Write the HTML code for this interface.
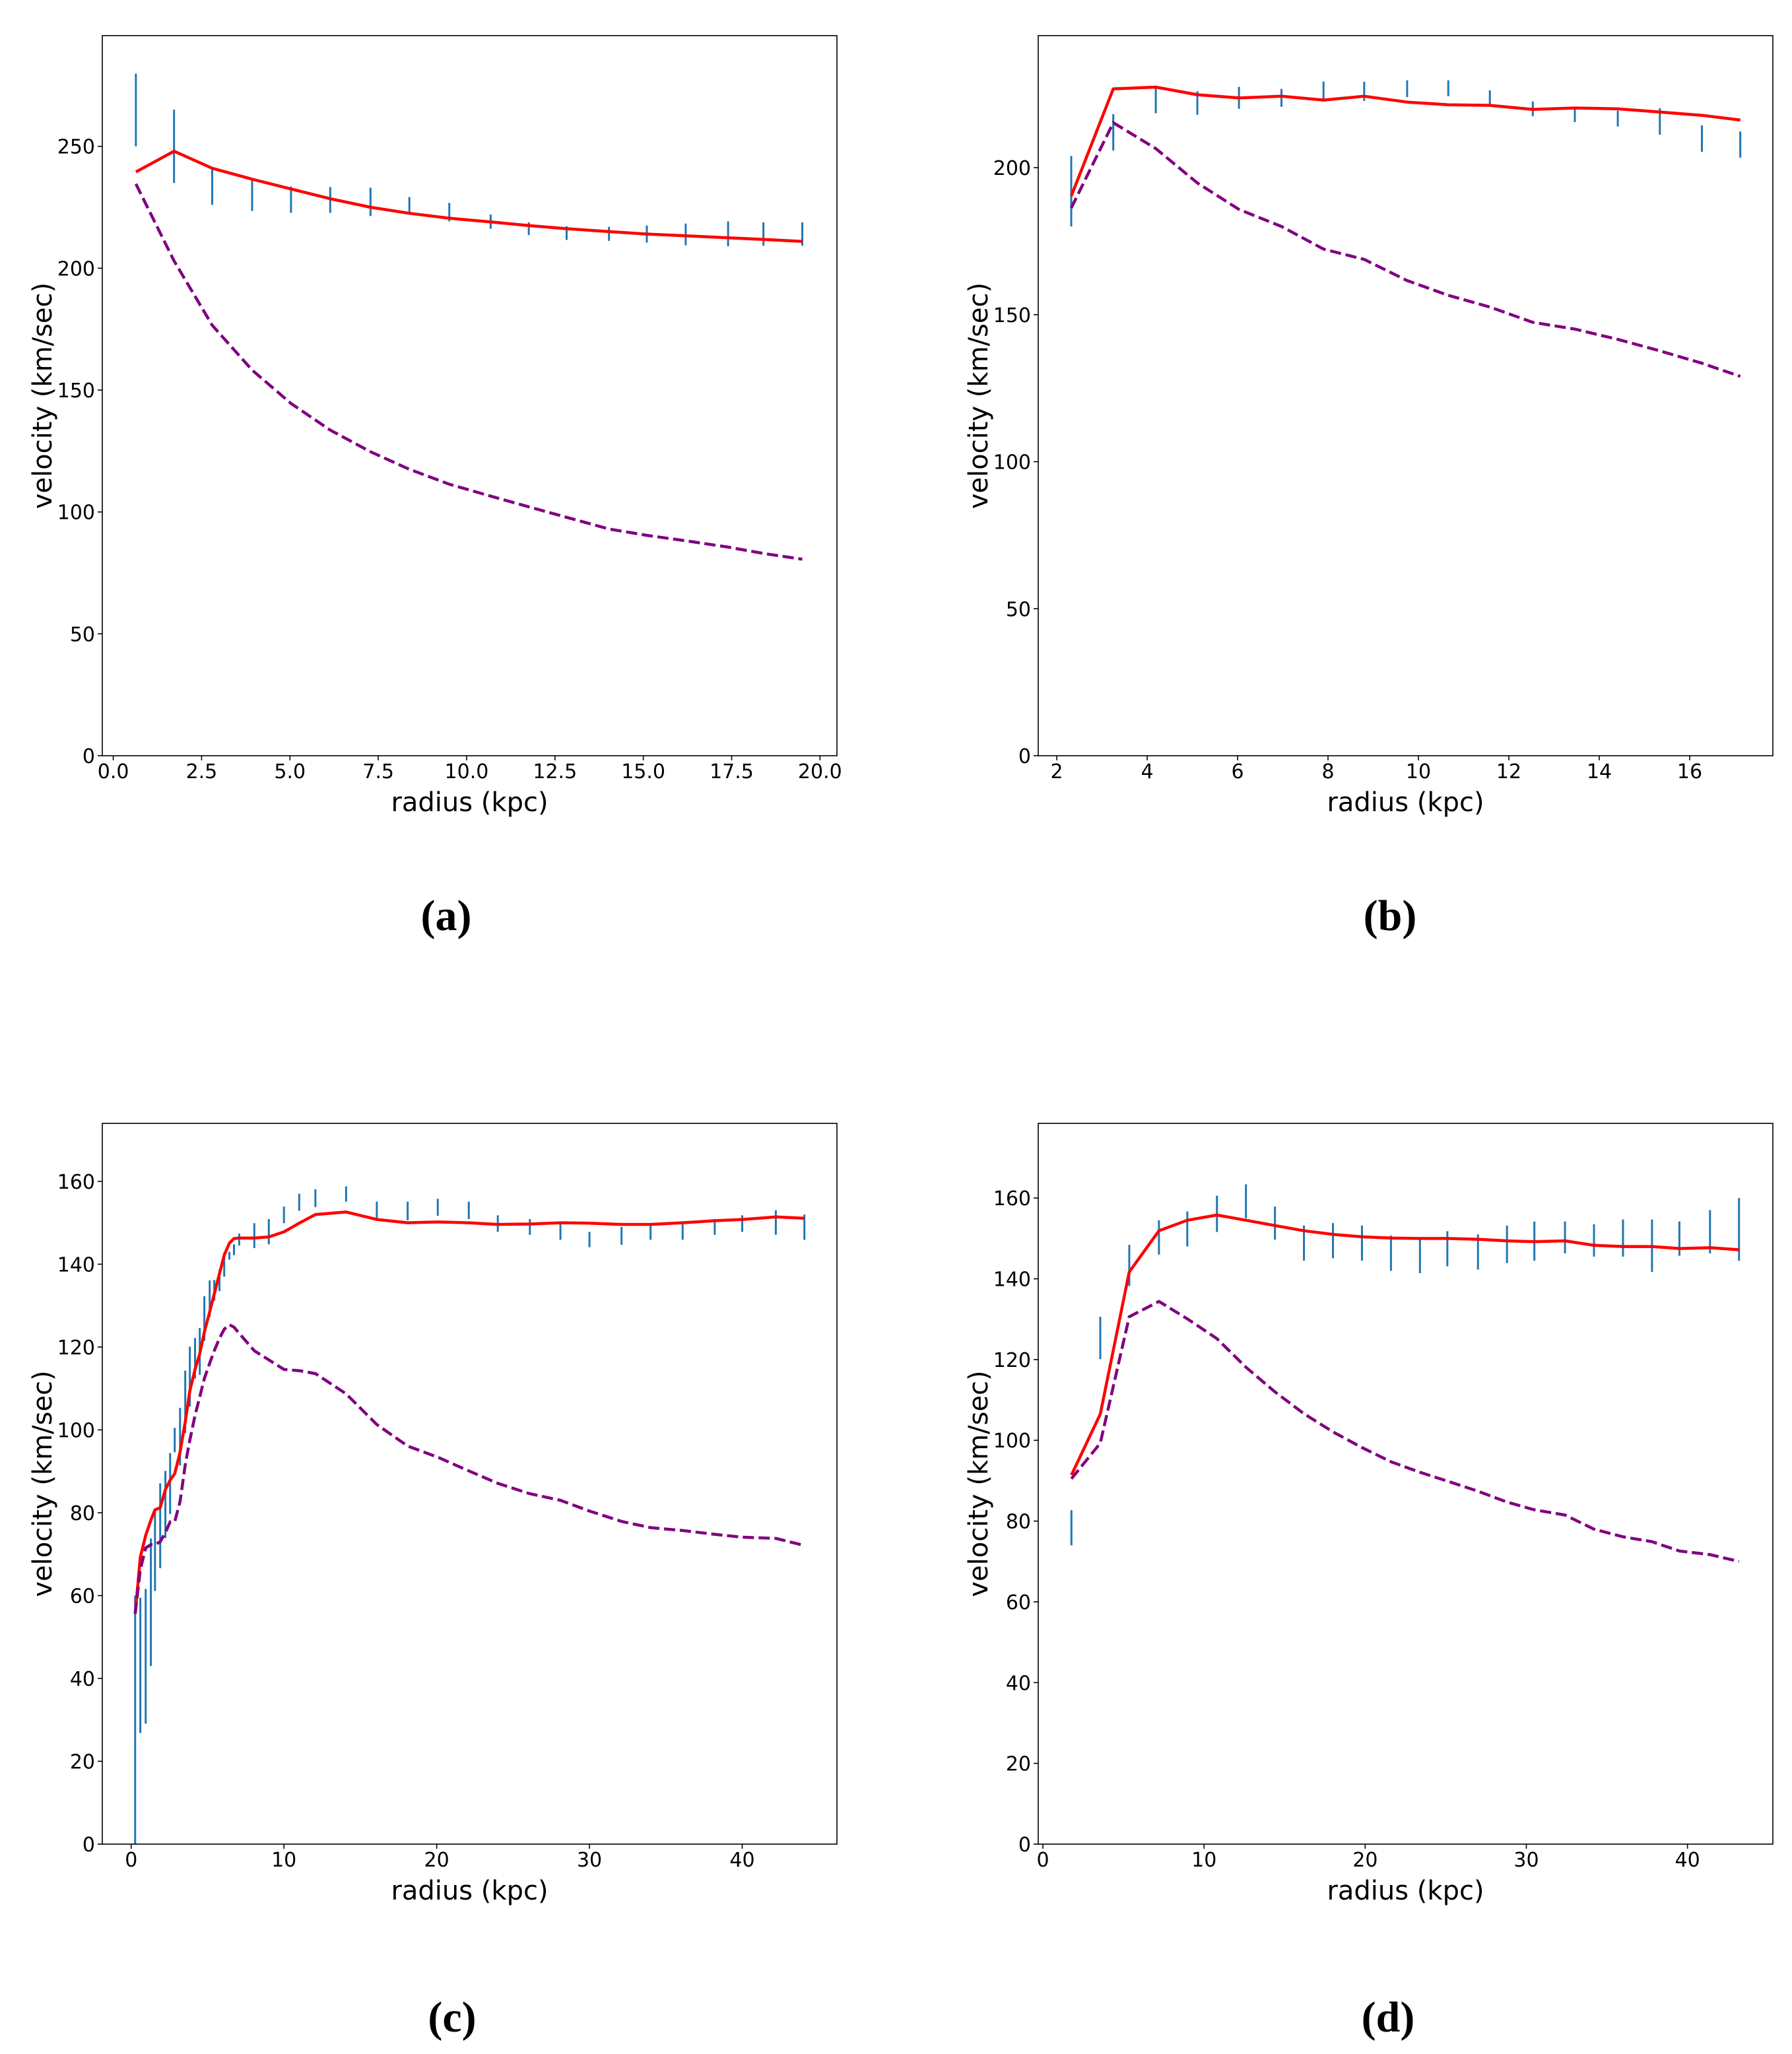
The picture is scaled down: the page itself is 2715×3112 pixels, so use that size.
<!DOCTYPE html>
<html><head><meta charset="utf-8">
<style>
html,body{margin:0;padding:0;background:#fff;}
svg{display:block;}
text{font-family:"DejaVu Sans","Liberation Sans",sans-serif;fill:#000;}
.cap{font-family:"Liberation Serif",serif;font-weight:bold;}
</style></head>
<body>
<svg id="fig" width="2715" height="3112" viewBox="0 0 2715 3112" xmlns="http://www.w3.org/2000/svg"></svg>
<script>
// ---- Panel (a) ----
const aR = [0.64,1.72,2.8,3.93,5.03,6.14,7.28,8.38,9.51,10.68,11.76,12.83,14.03,15.1,16.2,17.4,18.4,19.5];
const aObsHi = [279.8,265,241,236.6,233.5,233.3,233,229.2,226.8,222,218.8,217.2,217,217.5,218.3,219.2,218.8,218.8];
const aObsLo = [250,235,226,223.5,222.7,222.7,221.4,222.7,219.2,216.2,213.6,211.6,211.2,210.5,209.4,209,209.2,209.2];
const aModel = [239.5,248,241,236.5,232.5,228.5,225,222.5,220.5,219,217.5,216.2,215,214,213.3,212.5,211.8,211];
const aBary = [234.6,203,176.6,158.2,144.5,133.6,124.7,117.5,111.4,106.5,102.1,97.8,93,90.4,88.2,85.6,83,80.6];
const aXTicks = [0,2.5,5,7.5,10,12.5,15,17.5,20];
const aXTickLabels = ["0.0","2.5","5.0","7.5","10.0","12.5","15.0","17.5","20.0"];
const aYTicks = [0,50,100,150,200,250];

// ---- Panel (b) ----
const bR = [2.32,3.25,4.19,5.11,6.03,6.97,7.9,8.8,9.75,10.66,11.58,12.53,13.46,14.41,15.34,16.27,17.12];
const bObsHi = [204,218.2,227.2,226,227.5,226.8,229.3,229.2,229.7,229.7,226.3,222.5,220.5,219.4,220.2,214.4,212.3];
const bObsLo = [180,205.8,218.5,218,220,220.7,222.7,222.7,224,224.3,221.4,217.5,215.5,214,211.2,205.4,203.4];
const bModel = [190.3,226.8,227.4,224.8,223.7,224.3,223,224.3,222.3,221.4,221.2,219.8,220.3,220,218.9,217.8,216.2];
const bBary = [186.3,215.3,206.5,194.8,185.8,180,172.3,168.8,161.6,156.6,152.6,147.4,145.1,141.6,137.7,133.5,129];
const bXTicks = [2,4,6,8,10,12,14,16];
const bXTickLabels = ["2","4","6","8","10","12","14","16"];
const bYTicks = [0,50,100,150,200];

// ---- Panel (c) ----
const cR = [0.26,0.6,0.95,1.29,1.56,1.9,2.24,2.55,2.85,3.2,3.54,3.84,4.18,4.49,4.79,5.14,5.44,5.78,6.09,6.43,6.73,7.07,8.06,9.01,10,11,12.06,14.07,16.08,18.1,20.07,22.1,24,26.1,28.1,30,32.1,34,36.1,38.2,40,42.2,44.07];
const cObsHi = [60,59.5,61.6,73.8,80.4,87.1,90.1,94.4,100.5,105.3,114.3,120.1,122.2,124.6,132.3,136.1,136.2,138.7,142.8,143,144.8,147.4,149.9,150.9,153.9,157,158.1,158.8,155.1,155.1,155.8,155.1,151.8,150.9,150.3,147.8,149,149.9,150.3,150.9,151.8,153,152];
const cObsLo = [0,26.8,29.1,43,61.1,66.6,73.9,79.7,94.6,91.4,99.2,105.6,112.4,113.3,121.5,127.3,131.2,133.5,137,141.1,142.2,144.5,143.9,144.8,149.9,152.9,153.8,155.1,150.6,150.6,151.7,150.9,147.8,147.1,145.9,144.1,144.7,145.9,145.9,147.1,147.8,147.1,145.9];
const cModel = [55.6,69.3,74.5,78.2,80.7,81.2,85.6,87.9,89.4,94.6,102,109.4,114.6,118.4,123.6,128.5,132.8,137.7,142.2,145.1,146.2,146.3,146.3,146.6,147.8,149.9,152,152.6,150.8,150,150.2,150,149.6,149.7,150,149.9,149.6,149.6,150,150.5,150.8,151.4,151.1];
const cBary = [55.6,66.3,71.5,72.3,72.3,73,75.2,77.8,77.8,82.7,91.6,97.5,103.5,108,112.4,116.1,119.1,122.1,124.3,125.4,124.8,123.3,119.1,116.9,114.6,114.3,113.6,108.7,101.3,96.1,93.4,90.1,87.1,84.6,83,80.4,77.9,76.4,75.7,74.8,74.1,73.8,72.1];
const cXTicks = [0,10,20,30,40];
const cXTickLabels = ["0","10","20","30","40"];
const cYTicks = [0,20,40,60,80,100,120,140,160];

// ---- Panel (d) ----
const dR = [1.77,3.56,5.36,7.2,8.96,10.8,12.6,14.4,16.2,18,19.8,21.6,23.4,25.1,27,28.8,30.5,32.4,34.2,36,37.8,39.5,41.4,43.2];
const dObsHi = [82.7,130.6,148.4,154.5,156.7,160.6,163.4,157.9,153.2,153.8,153.2,150.7,150.3,151.8,151,153.2,154.2,154.2,153.5,154.7,154.7,154.2,157,160];
const dObsLo = [74,120.1,138.2,146,148,151.6,155,149.7,144.5,145.1,144.5,142,141.4,143.1,142.3,143.9,144.5,146.3,145.5,145.5,141.7,145.7,146.3,144.5];
const dModel = [91.4,106.5,141.7,151.9,154.5,155.8,154.5,153.2,151.9,151,150.4,150.1,150,150,149.8,149.4,149.2,149.4,148.3,148,148,147.5,147.7,147.2];
const dBary = [90.5,99.3,130.6,134.4,130.1,125.2,118.1,112,106.6,102.1,98.2,94.7,92.1,89.9,87.4,84.7,82.8,81.5,78,76.1,74.9,72.6,71.7,70];
const dXTicks = [0,10,20,30,40];
const dXTickLabels = ["0","10","20","30","40"];
const dYTicks = [0,20,40,60,80,100,120,140,160];

const NS = "http://www.w3.org/2000/svg";
const fig = document.getElementById('fig');
function mk(tag, attrs, parent){
  const e = document.createElementNS(NS, tag);
  for (const k in attrs) e.setAttribute(k, attrs[k]);
  (parent||fig).appendChild(e);
  return e;
}

function panel(id, box, xdom, ydom, R, hi, lo, model, bary, xt, xtl, yt, cap){
  const g = mk('g', {});
  
  
  const sx = v => box.l + (v - xdom[0]) / (xdom[1] - xdom[0]) * (box.r - box.l);
  const sy = v => box.b - (v - ydom[0]) / (ydom[1] - ydom[0]) * (box.b - box.t);
  for (let i = 0; i < R.length; i++){
    const l = mk('line', {x1:sx(R[i]), x2:sx(R[i]), y1:sy(hi[i]), y2:sy(lo[i]), stroke:'#1f77b4', 'stroke-width':3}, g);
    
    
  }
  const pts = arr => R.map((r,i) => sx(r).toFixed(1) + ',' + sy(arr[i]).toFixed(1)).join(' ');
  const pm = mk('polyline', {points:pts(model), fill:'none', stroke:'#ff0000', 'stroke-width':4.5, 'stroke-linejoin':'round'}, g);
  
  
  const pb = mk('polyline', {points:pts(bary), fill:'none', stroke:'#800080', 'stroke-width':4.5, 'stroke-dasharray':'17,7'}, g);
  
  
  const fr = mk('rect', {x:box.l, y:box.t, width:box.r-box.l, height:box.b-box.t, fill:'none', stroke:'#000', 'stroke-width':1.6}, g);
  
  
  xt.forEach((v,i) => {
    const x = sx(v);
    mk('line', {x1:x, x2:x, y1:box.b, y2:box.b+7, stroke:'#000', 'stroke-width':1.6}, g);
    const t = mk('text', {x:x, y:box.b+34, 'font-size':30, 'text-anchor':'middle'}, g);
    
    
    t.textContent = xtl[i];
  });
  yt.forEach(v => {
    const y = sy(v);
    mk('line', {x1:box.l-7, x2:box.l, y1:y, y2:y, stroke:'#000', 'stroke-width':1.6}, g);
    const t = mk('text', {x:box.l-11, y:y+11, 'font-size':30, 'text-anchor':'end'}, g);
    
    
    t.textContent = String(v);
  });
  const xl = mk('text', {x:(box.l+box.r)/2, y:box.b+84, 'font-size':40, 'text-anchor':'middle'}, g);
  
  
  xl.textContent = 'radius (kpc)';
  const ycx = box.l - 91, ycy = (box.t + box.b)/2;
  const yl = mk('text', {x:ycx, y:ycy, 'font-size':40, 'text-anchor':'middle', transform:'rotate(-90 '+ycx+' '+ycy+')', dy:14}, g);
  
  
  yl.textContent = 'velocity (km/sec)';
  const c = mk('text', {x:cap.x, y:cap.y, 'font-size':66, 'text-anchor':'middle', class:'cap'}, g);
  
  
  c.textContent = '(' + id + ')';
}

panel('a', {l:155,r:1268,t:54,b:1145}, [-0.31,20.48], [0,295.4], aR, aObsHi, aObsLo, aModel, aBary, aXTicks, aXTickLabels, aYTicks, {x:676,y:1409});
panel('b', {l:1573,r:2686,t:54,b:1145}, [1.59,17.84], [0,244.9], bR, bObsHi, bObsLo, bModel, bBary, bXTicks, bXTickLabels, bYTicks, {x:2106,y:1409});
panel('c', {l:155,r:1268,t:1702,b:2794}, [-1.89,46.2], [0,174], cR, cObsHi, cObsLo, cModel, cBary, cXTicks, cXTickLabels, cYTicks, {x:685,y:3078});
panel('d', {l:1573,r:2686,t:1702,b:2794}, [-0.29,45.3], [0,178.5], dR, dObsHi, dObsLo, dModel, dBary, dXTicks, dXTickLabels, dYTicks, {x:2103,y:3078});
</script>
</body></html>
